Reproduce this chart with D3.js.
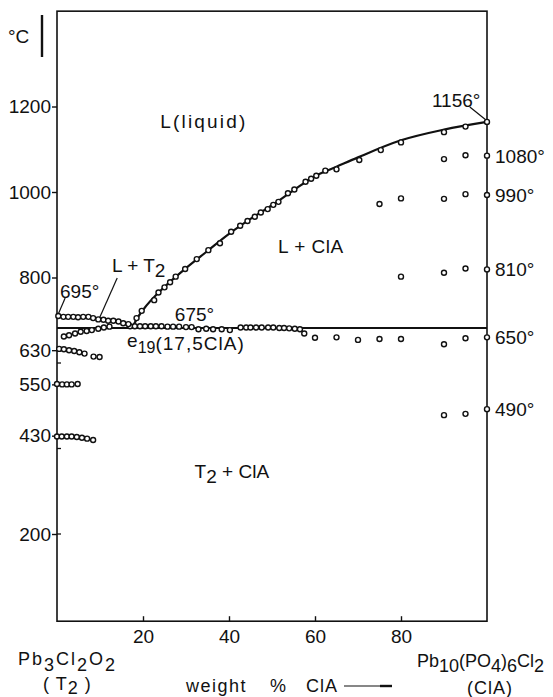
<!DOCTYPE html>
<html>
<head>
<meta charset="utf-8">
<script src="https://cdn.jsdelivr.net/npm/d3@7"></script>
<style>
  body { margin: 0; background: #fff; }
  svg text { font-family: "Liberation Sans", Arial, sans-serif; fill: #111; }
</style>
</head>
<body>
<svg id="chart" width="553" height="697"></svg>
<script>
// values: [weight % ClA, temperature °C]
var xTicks = [20, 40, 60, 80];
var yTicks = [200, 430, 550, 630, 800, 1000, 1200];
var yInnerTicks = [200, 400, 600];
var eutecticT = 682;

var liquidusLine = [[17.5,682],[18.5,702],[20,724],[25,778],[30,822],[35,862],[40,902],[45,937],[50,969],
    [55,1004],[60,1037],[65,1059],[70,1081],[80,1121],[90,1146],[100,1164]];

var liquidusPts = [[18.5,705],[19.7,722],[22.6,747],[23.6,765],[25.0,777],[26.3,789],[27.6,802],[29.8,820],
    [32.5,843],[35.2,864],[37.9,880],[40.5,907],[42.6,921],[44.3,932],[46.0,942],[47.4,952],[49.0,960],
    [50.3,970],[51.5,977],[53.7,997],[55.2,1006],[57.8,1024],[59.1,1031],[60.3,1038],[62.4,1050],[65.0,1053],
    [70.3,1075],[75.3,1098],[80.0,1116],[90.0,1140],[95.0,1153],[100,1164]];

var eutecticPts = [[17.0,686],[18.1,686],[19.3,686],[20.5,686],[21.8,686],[23.0,686],[24.3,686],[25.7,685],
    [27.0,685],[28.4,685],[30.0,684],[31.3,684],[32.9,679],[34.7,680],[36.3,679],[38.3,679],[40.2,677],
    [42.7,683],[44.0,683],[45.0,683],[46.3,683],[47.6,683],[49.1,683],[50.3,683],[51.7,682],[52.8,682],
    [54.0,681],[55.3,680],[56.5,679]];

var upperT2Pts = [[0.3,710],[1.5,708],[2.6,708],[3.8,708],[4.9,707],[6.1,708],[7.3,708],[8.4,705],[9.6,702],
    [10.8,701],[11.9,699],[13.1,699],[14.3,697],[15.4,693],[16.6,691]];
var lowerT2Pts = [[1.6,662],[2.8,665],[4.2,669],[5.5,673],[6.9,675],[8.1,677],[9.6,680],[10.9,683],[12.2,685]];

var row630 = [[0.5,633],[1.6,632],[2.8,630],[4.0,628],[5.2,625],[6.4,622],[8.5,615],[9.9,614]];
var row550 = [[0,551],[1.2,550],[2.3,550],[3.4,550],[4.8,551]];
var row430 = [[0,428],[1.1,428],[2.3,428],[3.4,428],[4.6,427],[5.8,425],[7.0,423],[8.4,420]];

var row1080 = [[90,1077],[95,1086],[100,1085]];
var row990 = [[75,972],[80,985],[90,984],[95,995],[100,993]];
var row810 = [[80,802],[90,811],[95,821],[100,819]];
var row650 = [[57.5,669],[60,659],[65,660],[70,654],[75,656],[80,656],[90,644],[95,658],[100,660]];
var row490 = [[90,478],[95,481],[100,492]];

var rightLabels = ["1080°", "990°", "810°", "650°", "490°"];
var rightLabelT = [1085, 993, 819, 660, 492];

var svg = d3.select("#chart");

var x = d3.scaleLinear().domain([0, 100]).range([57, 487]);
var y = d3.scaleLinear().domain([0, 1200]).range([619.5, 106.5]);
var yTop = 1423, yBottom = -4;

var fontSize = 19;

// frame
svg.append("rect")
    .attr("x", x(0)).attr("y", y(yTop))
    .attr("width", x(100) - x(0)).attr("height", y(yBottom) - y(yTop))
    .attr("fill", "none").attr("stroke", "#111").attr("stroke-width", 1.6);

// y axis: ticks outward with labels
var yAxis = d3.axisLeft(y).tickValues(yTicks).tickSize(5).tickPadding(1).tickFormat(d3.format("d"));
var gY = svg.append("g").attr("transform", "translate(" + x(0) + ",0)").call(yAxis);
gY.select(".domain").remove();
gY.selectAll("line").attr("stroke", "#111").attr("stroke-width", 1.4);
gY.selectAll("text").attr("font-size", fontSize).attr("font-family", "Liberation Sans, Arial, sans-serif").attr("fill", "#111");

svg.append("g").selectAll("line").data(yInnerTicks).enter().append("line")
    .attr("x1", x(0)).attr("x2", x(0) + 4)
    .attr("y1", function(d) { return y(d); }).attr("y2", function(d) { return y(d); })
    .attr("stroke", "#111").attr("stroke-width", 1.3);

// x axis: ticks inward
var xAxis = d3.axisBottom(x).tickValues(xTicks).tickSize(-5).tickPadding(8);
var gX = svg.append("g").attr("transform", "translate(0," + y(yBottom) + ")").call(xAxis);
gX.select(".domain").remove();
gX.selectAll("line").attr("stroke", "#111").attr("stroke-width", 1.4);
gX.selectAll("text").attr("font-size", fontSize).attr("font-family", "Liberation Sans, Arial, sans-serif").attr("fill", "#111");

// eutectic horizontal
svg.append("line")
    .attr("x1", x(0)).attr("x2", x(100))
    .attr("y1", y(eutecticT)).attr("y2", y(eutecticT))
    .attr("stroke", "#111").attr("stroke-width", 2);

// liquidus
var line = d3.line()
    .x(function(d) { return x(d[0]); })
    .y(function(d) { return y(d[1]); })
    .curve(d3.curveMonotoneX);
svg.append("path").datum(liquidusLine)
    .attr("d", line).attr("fill", "none")
    .attr("stroke", "#111").attr("stroke-width", 2.2).attr("stroke-linecap", "round");

// leader lines
function leader(x1, t1, x2, t2) {
    svg.append("line")
        .attr("x1", x(x1)).attr("y1", y(t1)).attr("x2", x(x2)).attr("y2", y(t2))
        .attr("stroke", "#111").attr("stroke-width", 1.2);
}
leader(96.0, 1199, 99.7, 1169);
leader(1.9, 752, 0.35, 716);
leader(14.0, 799, 9.7, 701);

// measured points
var allRows = [liquidusPts, eutecticPts, upperT2Pts, lowerT2Pts, row630, row550, row430,
    row1080, row990, row810, row650, row490];
var gP = svg.append("g");
allRows.forEach(function(rows) {
    gP.selectAll(null).data(rows).enter().append("circle")
        .attr("cx", function(d) { return x(d[0]); })
        .attr("cy", function(d) { return y(d[1]); })
        .attr("r", 2.5)
        .attr("fill", "#fff")
        .attr("stroke", "#111")
        .attr("stroke-width", 1.4);
});

// right side temperature labels
svg.append("g").selectAll("text").data(rightLabels).enter().append("text")
    .attr("x", x(100) + 8)
    .attr("y", function(d, i) { return y(rightLabelT[i]); })
    .attr("dy", "0.36em")
    .attr("font-size", fontSize)
    .text(function(d) { return d; });

function label(txt, px, py, extra) {
    var t = svg.append("text").attr("x", px).attr("y", py)
        .attr("font-size", fontSize).attr("letter-spacing", extra || 0);
    t.text(txt);
    return t;
}

label("1156°", x(87.2), y(1199));
label("695°", x(0.7), y(752));
label("675°", x(27.4), y(698));
label("L(liquid)", x(24), y(1150), 2.2);
label("L + ClA", x(51.4), y(857), 0.5);

var lt = svg.append("text").attr("x", x(12.8)).attr("y", y(813)).attr("font-size", fontSize);
lt.append("tspan").text("L + T");
lt.append("tspan").attr("dy", 5).text("2");

var et = svg.append("text").attr("x", x(16.3)).attr("y", y(637)).attr("font-size", fontSize);
et.append("tspan").text("e");
et.append("tspan").attr("dy", 6).attr("font-size", 16).text("19");
et.append("tspan").attr("dy", -3).attr("letter-spacing", 1).text("(17,5ClA)");

var tc = svg.append("text").attr("x", x(32)).attr("y", y(330)).attr("font-size", fontSize);
tc.append("tspan").text("T");
tc.append("tspan").attr("dy", 5).text("2");
tc.append("tspan").attr("dy", -5).text(" + ClA");

// degree axis caption
svg.append("text").attr("x", 8).attr("y", 43).attr("font-size", fontSize).text("°C");
svg.append("line").attr("x1", 42).attr("x2", 42).attr("y1", 15).attr("y2", 57)
    .attr("stroke", "#111").attr("stroke-width", 2.4);

// component names under the axis
var lf = svg.append("text").attr("x", 18).attr("y", 665).attr("font-size", 18).attr("letter-spacing", 2);
lf.append("tspan").text("Pb");
lf.append("tspan").attr("dy", 6).text("3");
lf.append("tspan").attr("dy", -6).text("Cl");
lf.append("tspan").attr("dy", 6).text("2");
lf.append("tspan").attr("dy", -6).text("O");
lf.append("tspan").attr("dy", 6).text("2");

var lt2 = svg.append("text").attr("x", 43).attr("y", 690).attr("font-size", 18).attr("letter-spacing", 1);
lt2.append("tspan").text("( T");
lt2.append("tspan").attr("dy", 4).text("2");
lt2.append("tspan").attr("dy", -4).text(" )");

var rf = svg.append("text").attr("x", 417).attr("y", 667).attr("font-size", 18);
rf.append("tspan").text("Pb");
rf.append("tspan").attr("dy", 5).text("10");
rf.append("tspan").attr("dy", -5).text("(PO");
rf.append("tspan").attr("dy", 5).text("4");
rf.append("tspan").attr("dy", -5).text(")");
rf.append("tspan").attr("dy", 5).text("6");
rf.append("tspan").attr("dy", -5).text("Cl");
rf.append("tspan").attr("dy", 5).text("2");

svg.append("text").attr("x", 467).attr("y", 694).attr("font-size", 18).attr("letter-spacing", 1).text("(ClA)");

svg.append("text").attr("x", 186).attr("y", 692).attr("font-size", 18).attr("letter-spacing", 1.5).text("weight");
svg.append("text").attr("x", 270).attr("y", 692).attr("font-size", 18).text("%");
svg.append("text").attr("x", 306).attr("y", 692).attr("font-size", 18).attr("letter-spacing", 1).text("ClA");
svg.append("line").attr("x1", 344).attr("x2", 384).attr("y1", 686).attr("y2", 686)
    .attr("stroke", "#111").attr("stroke-width", 1.2);
svg.append("line").attr("x1", 380).attr("x2", 392).attr("y1", 686).attr("y2", 686)
    .attr("stroke", "#111").attr("stroke-width", 2.4);
</script>
</body>
</html>
